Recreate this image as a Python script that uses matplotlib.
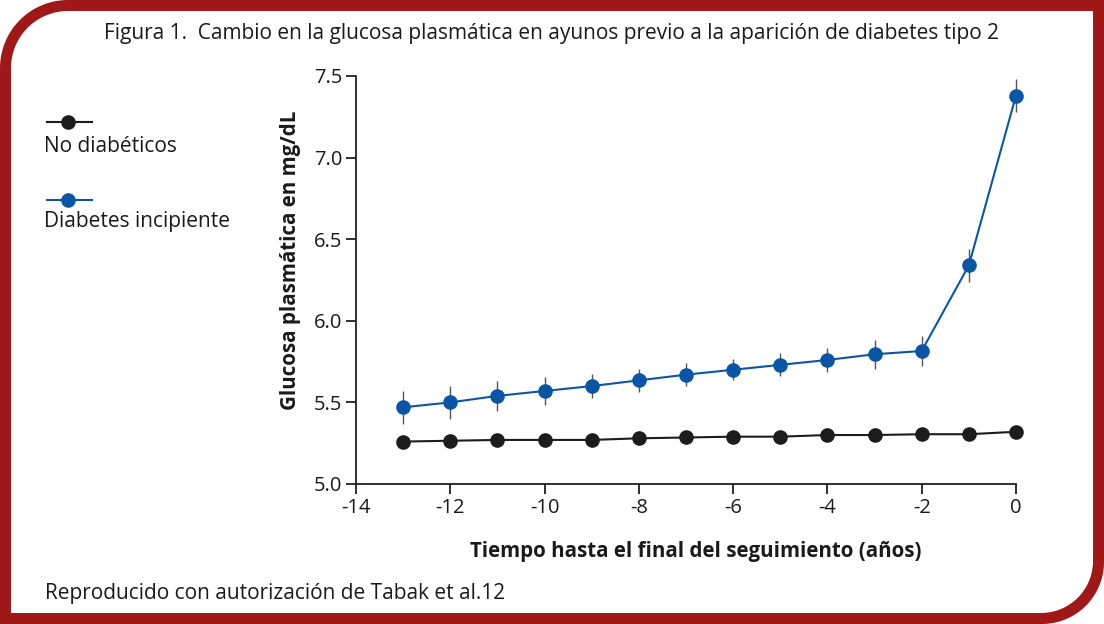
import numpy as np
import matplotlib
matplotlib.use("Agg")
import matplotlib.pyplot as plt
from matplotlib.path import Path
from matplotlib.patches import PathPatch

plt.rcParams['font.family'] = ['Open Sans', 'DejaVu Sans']

years = [-13, -12, -11, -10, -9, -8, -7, -6, -5, -4, -3, -2, -1, 0]
no_diab = [5.26, 5.265, 5.27, 5.27, 5.27, 5.28, 5.285, 5.29, 5.29, 5.30, 5.30, 5.305, 5.305, 5.32]
diab = [5.47, 5.50, 5.54, 5.57, 5.60, 5.635, 5.67, 5.70, 5.73, 5.76, 5.795, 5.815, 6.34, 7.38]
diab_err = [0.10, 0.10, 0.09, 0.085, 0.075, 0.07, 0.07, 0.065, 0.07, 0.075, 0.09, 0.09, 0.10, 0.10]

title = "Figura 1.  Cambio en la glucosa plasmática en ayunos previo a la aparición de diabetes tipo 2"
xlabel = "Tiempo hasta el final del seguimiento (años)"
ylabel = "Glucosa plasmática en mg/dL"
footer = "Reproducido con autorización de Tabak et al.12"
legend_labels = ["No diabéticos", "Diabetes incipiente"]
xticks = [-14, -12, -10, -8, -6, -4, -2, 0]
yticks = [5.0, 5.5, 6.0, 6.5, 7.0, 7.5]

W, H = 1104, 624
RED = "#a01818"
BLUE = "#0b56a4"
BLACK = "#1c1c1c"
AXC = "#231f20"
TXT = "#1a1a1a"

fig = plt.figure(figsize=(W / 100, H / 100), dpi=100)
fig.patch.set_facecolor("white")

# frame overlay axes in pixel coords
bg = fig.add_axes([0, 0, 1, 1], zorder=0)
bg.set_xlim(0, W)
bg.set_ylim(H, 0)
bg.axis("off")


def rounded(x0, y0, x1, y1, r_tl, r_br, n=30):
    pts = []
    for t in np.linspace(np.pi, 1.5 * np.pi, n):
        pts.append((x0 + r_tl + r_tl * np.cos(t), y0 + r_tl + r_tl * np.sin(t)))
    pts.append((x1, y0))
    for t in np.linspace(0, 0.5 * np.pi, n):
        pts.append((x1 - r_br + r_br * np.cos(t), y1 - r_br + r_br * np.sin(t)))
    pts.append((x0, y1))
    pts.append(pts[0])
    return pts

outer = rounded(0, 0, W, H, 68, 62)
inner = rounded(11, 11, 1093, 613, 57, 52)
verts = outer + inner[::-1]
codes = ([Path.MOVETO] + [Path.LINETO] * (len(outer) - 2) + [Path.CLOSEPOLY] +
         [Path.MOVETO] + [Path.LINETO] * (len(inner) - 2) + [Path.CLOSEPOLY])
bg.add_patch(PathPatch(Path(verts, codes), facecolor=RED, edgecolor="none"))

# texts
bg.text(551, 33, title, ha="center", va="center", fontsize=15, color=TXT)
bg.text(45, 594, footer, ha="left", va="center", fontsize=15, color=TXT)

# legend
bg.plot([47, 92], [122, 122], color=BLACK, lw=1.5)
bg.plot([68], [122], "o", color=BLACK, ms=9.5)
bg.text(44, 146, legend_labels[0], ha="left", va="center", fontsize=15, color=TXT)
bg.plot([47, 92], [200, 200], color=BLUE, lw=1.5)
bg.plot([68], [200], "o", color=BLUE, ms=9.5)
bg.text(44, 222, legend_labels[1], ha="left", va="center", fontsize=15, color=TXT)

# main axes
ax = fig.add_axes([356 / W, 1 - 484 / H, (1016 - 356) / W, (484 - 76) / H], zorder=1)
ax.patch.set_alpha(0)
ax.set_xlim(-14, 0)
ax.set_ylim(5.0, 7.5)
for s in ["top", "right"]:
    ax.spines[s].set_visible(False)
for s in ["left", "bottom"]:
    ax.spines[s].set_color(AXC)
    ax.spines[s].set_linewidth(1.3)
ax.tick_params(direction="out", length=7, width=1.3, color=AXC, labelsize=14.5,
               labelcolor=TXT, pad=3)
ax.set_xticks(xticks)
ax.set_xticklabels([str(t) for t in xticks])
ax.set_yticks(yticks)
ax.set_yticklabels([f"{t:.1f}" for t in yticks])

ax.errorbar(years, diab, yerr=diab_err, fmt="none", ecolor="#555555", elinewidth=1.0,
            capsize=0, zorder=2, clip_on=False)
ax.plot(years, no_diab, "-o", color=BLACK, lw=1.5, ms=9.5, zorder=3, clip_on=False)
ax.plot(years, diab, "-o", color=BLUE, lw=1.5, ms=9.5, zorder=4, clip_on=False)

ax.set_xlabel(xlabel, fontsize=14.8, fontweight="bold", color=TXT)
ax.set_ylabel(ylabel, fontsize=14.8, fontweight="bold", color=TXT)
ax.xaxis.set_label_coords((696 - 356) / (1016 - 356), -(541 - 484) / (484 - 76))
ax.yaxis.set_label_coords(-(356 - 301) / (1016 - 356), (484 - 260) / (484 - 76))

fig.savefig("out.png", dpi=100)
